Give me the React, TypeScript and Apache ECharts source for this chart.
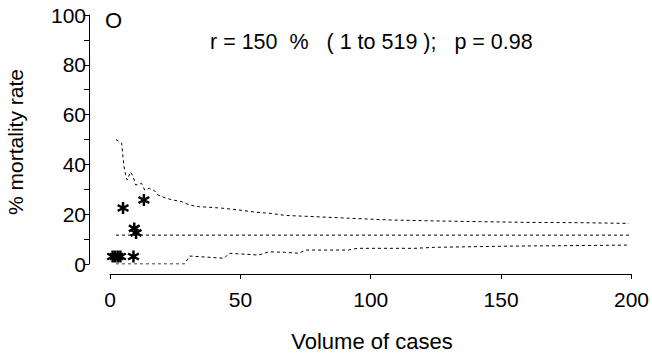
import React, { useEffect, useRef } from "react";
import * as echarts from "echarts";

const upperN = [2.3, 4.5, 4.8, 5.1, 5.4, 6.1, 6.6, 7.9, 8.9, 9.9, 12.1, 13.3, 15.2, 17.1, 18.4, 21.6, 24.1, 27.3, 30.5, 34.3, 38, 43.2, 49.5, 55.9, 61, 67.3, 78.7, 91.4, 106.7, 124.4, 142.2, 161, 180, 199];
const upperV = [50, 48.5, 45, 41.8, 39, 35, 33.7, 37, 35, 31.7, 32.4, 29.7, 30.4, 29.4, 27.7, 26.4, 25.7, 25.1, 23.7, 23, 22.8, 22.4, 21.7, 20.8, 20.4, 19.5, 19, 18.4, 17.7, 17.3, 17, 16.7, 16.6, 16.3];

const lowerN = [2.3, 28.6, 30.5, 43.8, 45.7, 57, 61, 67, 72.4, 75, 91.4, 95, 117, 124.4, 142, 155, 180, 199];
const lowerV = [0, 0, 3.2, 2.3, 4.3, 3.6, 4.9, 4.7, 4.3, 5.6, 5.6, 6.3, 6.3, 6.7, 7.0, 7.2, 7.4, 7.6];

const meanN = [2.3, 199];
const meanV = [11.6, 11.6];

const starN = [1, 2, 3, 4, 9, 5, 13, 9.3, 10];
const starV = [3, 3, 3, 3, 3, 22.5, 25.7, 14.3, 12.5];

const xTicks = [0, 50, 100, 150, 200];
const yTicks = [0, 20, 40, 60, 80, 100];

const annotation = "r = 150  %   ( 1 to 519 );   p = 0.98";
const panelLetter = "O";
const xTitle = "Volume of cases";
const yTitle = "% mortality rate";

const FONT = "'Liberation Sans', Arial, sans-serif";
const STAR =
  "path://M-2,-10L2,-10L2,10L-2,10Z M-9.66,-3.27L-7.66,-6.73L9.66,3.27L7.66,6.73Z M7.66,-6.73L9.66,-3.27L-7.66,6.73L-9.66,3.27Z";

const zip = (a: number[], b: number[]) => a.map((v, i) => [v, b[i]]);

export default function App() {
  const ref = useRef<HTMLDivElement>(null);
  useEffect(() => {
    if (!ref.current) return;
    const chart = echarts.init(ref.current, null, { renderer: "svg" });
    const dashed = { color: "#000", width: 1, type: [3, 3] as number[] };
    chart.setOption({
      animation: false,
      backgroundColor: "#fff",
      grid: { left: 110, right: 17, top: 15, bottom: 94 },
      xAxis: {
        type: "value",
        min: xTicks[0],
        max: xTicks[xTicks.length - 1],
        interval: 50,
        offset: 10,
        axisLine: { show: true, onZero: false, lineStyle: { color: "#000", width: 1 } },
        axisTick: { show: true, length: 5, lineStyle: { color: "#000" } },
        axisLabel: { color: "#000", fontSize: 21, fontFamily: FONT, margin: 15 },
        splitLine: { show: false },
      },
      yAxis: {
        type: "value",
        min: yTicks[0],
        max: yTicks[yTicks.length - 1],
        interval: 20,
        offset: 21,
        axisLine: { show: true, onZero: false, lineStyle: { color: "#000", width: 1 } },
        axisTick: { show: true, length: 5, lineStyle: { color: "#000" } },
        minorTick: { show: true, splitNumber: 2, length: 5, lineStyle: { color: "#000" } },
        axisLabel: { color: "#000", fontSize: 21, fontFamily: FONT, margin: 3 },
        splitLine: { show: false },
      },
      graphic: [
        {
          type: "text",
          x: 15,
          y: 142,
          rotation: Math.PI / 2,
          style: { text: yTitle, fontSize: 21, fontFamily: FONT, fill: "#000", align: "center", verticalAlign: "middle" },
        },
        {
          type: "text",
          x: 372,
          y: 341,
          style: { text: xTitle, fontSize: 22, fontFamily: FONT, fill: "#000", align: "center", verticalAlign: "middle" },
        },
        {
          type: "text",
          x: 210,
          y: 42,
          style: { text: annotation, fontSize: 21.5, fontFamily: FONT, fill: "#000", align: "left", verticalAlign: "middle" },
        },
        {
          type: "text",
          x: 105,
          y: 20,
          style: { text: panelLetter, fontSize: 22, fontFamily: FONT, fill: "#000", align: "left", verticalAlign: "middle" },
        },
      ],
      series: [
        { type: "line", data: zip(upperN, upperV), symbol: "none", lineStyle: dashed, silent: true },
        { type: "line", data: zip(meanN, meanV), symbol: "none", lineStyle: dashed, silent: true },
        { type: "line", data: zip(lowerN, lowerV), symbol: "none", lineStyle: dashed, silent: true },
        {
          type: "scatter",
          data: zip(starN, starV),
          symbol: STAR,
          symbolSize: 12,
          itemStyle: { color: "#000", opacity: 1 },
        },
      ],
    });
    return () => chart.dispose();
  }, []);
  return <div ref={ref} style={{ width: 652, height: 358, position: "absolute", left: 0, top: 0 }} />;
}
